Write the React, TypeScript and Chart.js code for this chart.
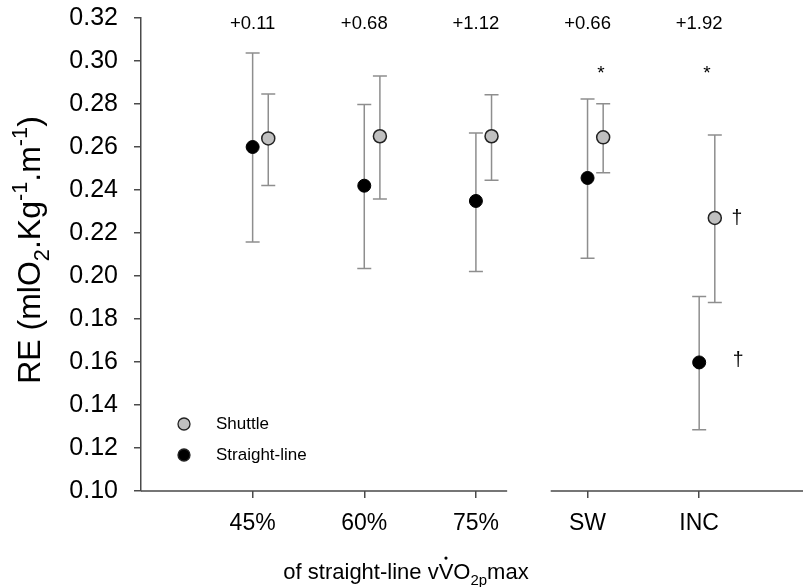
import React, { useEffect, useRef } from "react";
import { Chart, registerables } from "chart.js";

Chart.register(...registerables);

// ---- data ----
const categories = ["45%", "60%", "75%", "SW", "INC"];
const shuttleMean = [0.264, 0.265, 0.265, 0.2645, 0.227];
const shuttleUpper = [0.2847, 0.293, 0.2843, 0.2801, 0.2656];
const shuttleLower = [0.2421, 0.2358, 0.2445, 0.248, 0.1877];
const straightMean = [0.26, 0.242, 0.2349, 0.2456, 0.1598];
const straightUpper = [0.3037, 0.2798, 0.2665, 0.2823, 0.1905];
const straightLower = [0.2158, 0.2035, 0.2021, 0.2082, 0.1285];
const differences = ["+0.11", "+0.68", "+1.12", "+0.66", "+1.92"];
const starCategories = ["SW", "INC"];
const daggerCategories = ["INC"];
const yMin = 0.1;
const yMax = 0.32;
const yStep = 0.02;

// ---- styling / layout constants ----
const FONT = "'Liberation Sans', Arial, Helvetica, sans-serif";
const STRAIGHT_OFFSET = 0;
const SHUTTLE_OFFSET = 0.14;
const X_MIN = 0;
const X_MAX = 5.93;
const BREAK_FROM = 3.28;
const BREAK_TO = 3.67;
const AXIS_COLOR = "#4a4a4a";
const ERR_COLOR = "#8e8e8e";
const GREY_FILL = "#c0c0c0";

type Part = { t: string; m?: "sub" | "sup" };

function drawRich(ctx: CanvasRenderingContext2D, parts: Part[], cx: number, cy: number, size: number) {
  const small = size * 0.68;
  const widths = parts.map((p) => {
    ctx.font = `${p.m ? small : size}px ${FONT}`;
    return ctx.measureText(p.t).width;
  });
  const total = widths.reduce((a, b) => a + b, 0);
  let x = cx - total / 2;
  ctx.textBaseline = "alphabetic";
  ctx.textAlign = "left";
  parts.forEach((p, i) => {
    ctx.font = `${p.m ? small : size}px ${FONT}`;
    let dy = 0;
    if (p.m === "sub") dy = size * 0.28;
    if (p.m === "sup") dy = -size * 0.42;
    ctx.fillText(p.t, x, cy + dy);
    x += widths[i];
  });
  return { left: cx - total / 2, widths };
}

const decorPlugin = {
  id: "decor",
  beforeDatasetsDraw(chart: any) {
    const { ctx, scales } = chart;
    const x = scales.x;
    const y = scales.y;
    ctx.save();
    ctx.strokeStyle = ERR_COLOR;
    ctx.lineWidth = 1.5;
    const cap = 7;
    const series = [
      { off: STRAIGHT_OFFSET, lo: straightLower, hi: straightUpper },
      { off: SHUTTLE_OFFSET, lo: shuttleLower, hi: shuttleUpper },
    ];
    series.forEach((s) => {
      categories.forEach((_, i) => {
        const px = x.getPixelForValue(i + 1 + s.off);
        const yt = y.getPixelForValue(s.hi[i]);
        const yb = y.getPixelForValue(s.lo[i]);
        ctx.beginPath();
        ctx.moveTo(px, yt);
        ctx.lineTo(px, yb);
        ctx.moveTo(px - cap, yt);
        ctx.lineTo(px + cap, yt);
        ctx.moveTo(px - cap, yb);
        ctx.lineTo(px + cap, yb);
        ctx.stroke();
      });
    });
    ctx.restore();
  },
  afterDraw(chart: any) {
    const { ctx, scales, chartArea } = chart;
    const x = scales.x;
    const y = scales.y;
    ctx.save();
    // broken x axis line
    const yb = y.getPixelForValue(yMin);
    ctx.strokeStyle = AXIS_COLOR;
    ctx.lineWidth = 1.5;
    ctx.beginPath();
    ctx.moveTo(chartArea.left, yb);
    ctx.lineTo(x.getPixelForValue(BREAK_FROM), yb);
    ctx.moveTo(x.getPixelForValue(BREAK_TO), yb);
    ctx.lineTo(chartArea.right, yb);
    ctx.stroke();

    ctx.fillStyle = "#000";
    // differences
    ctx.font = `18.5px ${FONT}`;
    ctx.textAlign = "center";
    ctx.textBaseline = "middle";
    differences.forEach((d, i) => {
      ctx.fillText(d, x.getPixelForValue(i + 1), chartArea.top + 6);
    });
    // stars
    ctx.font = `19px ${FONT}`;
    categories.forEach((c, i) => {
      if (starCategories.includes(c)) {
        const px = x.getPixelForValue(i + 1 + (c === "SW" ? 0.12 : 0.07));
        ctx.fillText("*", px, y.getPixelForValue(0.294));
      }
    });
    // daggers
    ctx.font = `19.5px ${FONT}`;
    categories.forEach((c, i) => {
      if (daggerCategories.includes(c)) {
        ctx.fillText("†", x.getPixelForValue(i + 1 + SHUTTLE_OFFSET) + 22, y.getPixelForValue(shuttleMean[i]) + 1);
        ctx.fillText("†", x.getPixelForValue(i + 1 + STRAIGHT_OFFSET) + 39, y.getPixelForValue(straightMean[i]) - 2);
      }
    });

    // legend
    const lx = 184;
    const rows = [
      { label: "Shuttle", fill: GREY_FILL, ly: 424 },
      { label: "Straight-line", fill: "#000", ly: 455 },
    ];
    rows.forEach((r) => {
      ctx.beginPath();
      ctx.arc(lx, r.ly, 6, 0, Math.PI * 2);
      ctx.fillStyle = r.fill;
      ctx.fill();
      ctx.lineWidth = 1.3;
      ctx.strokeStyle = "#222";
      ctx.stroke();
      ctx.fillStyle = "#000";
      ctx.font = `17px ${FONT}`;
      ctx.textAlign = "left";
      ctx.textBaseline = "middle";
      ctx.fillText(r.label, 216, r.ly);
    });

    // y title (rotated)
    ctx.save();
    ctx.translate(40, 250);
    ctx.rotate(-Math.PI / 2);
    ctx.fillStyle = "#000";
    drawRich(
      ctx,
      [
        { t: "RE (mlO" },
        { t: "2", m: "sub" },
        { t: ".Kg" },
        { t: "-1", m: "sup" },
        { t: ".m" },
        { t: "-1", m: "sup" },
        { t: ")" },
      ],
      0,
      0,
      32
    );
    ctx.restore();

    // x title
    const size = 22;
    const ty = 579;
    const parts: Part[] = [
      { t: "of straight-line v" },
      { t: "V" },
      { t: "O" },
      { t: "2p", m: "sub" },
      { t: "max" },
    ];
    ctx.fillStyle = "#000";
    const res = drawRich(ctx, parts, 406, ty, size);
    const vx = res.left + res.widths[0] + res.widths[1] / 2;
    ctx.beginPath();
    ctx.arc(vx, ty - size * 0.95, 1.6, 0, Math.PI * 2);
    ctx.fill();

    ctx.restore();
  },
};

export default function App() {
  const ref = useRef<HTMLCanvasElement | null>(null);
  useEffect(() => {
    document.body.style.margin = "0";
    const canvas = ref.current!;
    const chart = new Chart(canvas, {
      type: "scatter",
      data: {
        datasets: [
          {
            label: "Straight-line",
            data: straightMean.map((v, i) => ({ x: i + 1 + STRAIGHT_OFFSET, y: v })),
            backgroundColor: "#000",
            borderColor: "#000",
            borderWidth: 1,
            pointRadius: 6.5,
          },
          {
            label: "Shuttle",
            data: shuttleMean.map((v, i) => ({ x: i + 1 + SHUTTLE_OFFSET, y: v })),
            backgroundColor: GREY_FILL,
            borderColor: "#222",
            borderWidth: 1.5,
            pointRadius: 6.5,
          },
        ],
      },
      options: {
        responsive: false,
        animation: false,
        devicePixelRatio: 1,
        layout: { padding: { top: 18, right: 1, left: 0, bottom: 0 } },
        plugins: { legend: { display: false }, tooltip: { enabled: false } },
        scales: {
          x: {
            type: "linear",
            min: X_MIN,
            max: X_MAX,
            afterBuildTicks: (s: any) => {
              s.ticks = categories.map((_, i) => ({ value: i + 1 }));
            },
            afterFit: (s: any) => {
              s.height = 96;
              s.paddingLeft = 0;
              s.paddingRight = 0;
            },
            border: { display: false },
            grid: {
              drawOnChartArea: false,
              drawTicks: true,
              tickLength: 7,
              color: AXIS_COLOR,
              lineWidth: 1.5,
            },
            ticks: {
              autoSkip: false,
              maxRotation: 0,
              padding: 12,
              color: "#000",
              font: { family: FONT, size: 23 },
              callback: (v: any) => categories[Math.round(Number(v)) - 1] ?? "",
            },
          },
          y: {
            min: yMin,
            max: yMax,
            afterBuildTicks: (s: any) => {
              const t = [];
              for (let k = 0; k <= Math.round((yMax - yMin) / yStep); k++) t.push({ value: yMin + k * yStep });
              s.ticks = t;
            },
            afterFit: (s: any) => {
              s.width = 141;
              s.paddingTop = 0;
              s.paddingBottom = 0;
            },
            border: { display: true, color: AXIS_COLOR, width: 1.5 },
            grid: {
              drawOnChartArea: false,
              drawTicks: true,
              tickLength: 7,
              color: AXIS_COLOR,
              lineWidth: 1.5,
            },
            ticks: {
              padding: 16,
              color: "#000",
              font: { family: FONT, size: 25 },
              callback: (v: any) => Number(v).toFixed(2),
            },
          },
        },
      },
      plugins: [decorPlugin],
    } as any);
    return () => chart.destroy();
  }, []);
  return (
    <div style={{ position: "absolute", left: 0, top: 0, width: 811, height: 587, background: "#fff" }}>
      <canvas ref={ref} width={811} height={587} style={{ width: 811, height: 587 }} />
    </div>
  );
}
